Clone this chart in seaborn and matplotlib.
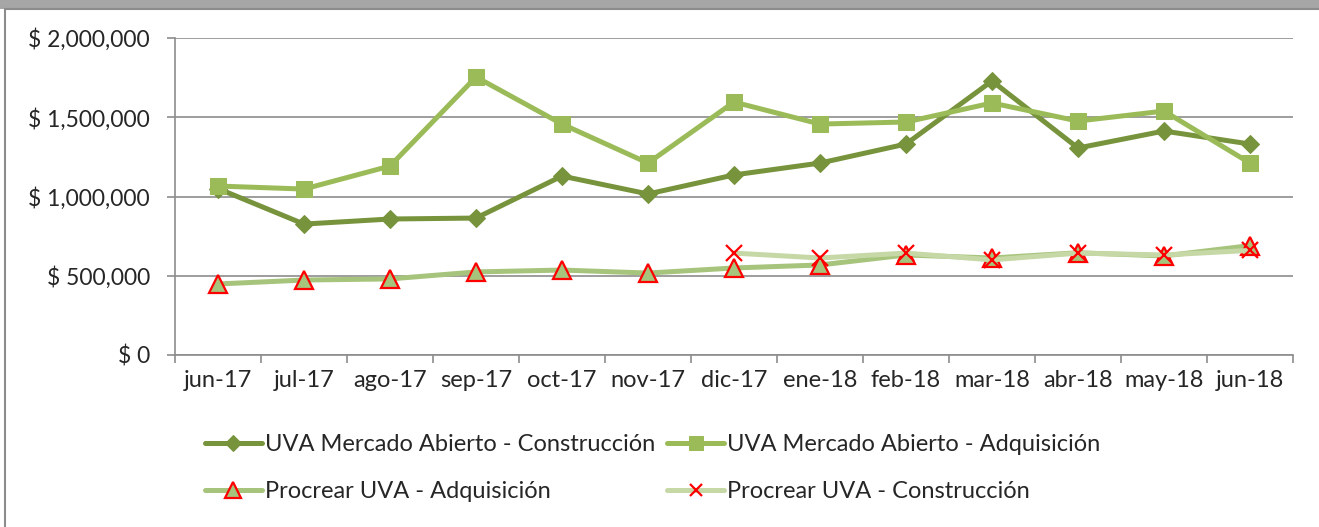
import matplotlib
matplotlib.use("Agg")
import matplotlib.pyplot as plt
import matplotlib.patches as mpatches
from matplotlib.ticker import FuncFormatter, FixedLocator
import seaborn as sns
import numpy as np
import pandas as pd

sns.set_style("white")
plt.rcParams['font.family'] = ['Lato', 'DejaVu Sans']

months = ['jun-17', 'jul-17', 'ago-17', 'sep-17', 'oct-17', 'nov-17', 'dic-17',
          'ene-18', 'feb-18', 'mar-18', 'abr-18', 'may-18', 'jun-18']

uva_construccion = [1050000, 826000, 858000, 864000, 1129000, 1016000, 1136000,
                    1211000, 1331000, 1729000, 1306000, 1413000, 1331000]
uva_adquisicion = [1066000, 1047000, 1192000, 1754000, 1457000, 1211000, 1596000,
                   1457000, 1470000, 1590000, 1476000, 1539000, 1211000]
procrear_adquisicion = [448000, 473000, 480000, 524000, 536000, 517000, 549000,
                        568000, 631000, 612000, 645000, 625000, 690000]
procrear_construccion = [np.nan, np.nan, np.nan, np.nan, np.nan, np.nan, 643000,
                         612000, 643000, 600000, 643000, 631000, 660000]

df = pd.DataFrame({
    'pos': np.arange(len(months)),
    'uva_c': uva_construccion,
    'uva_a': uva_adquisicion,
    'pro_a': procrear_adquisicion,
    'pro_c': procrear_construccion,
})

fig = plt.figure(figsize=(13.19, 5.27), dpi=100)
# outer frame like the excel chart area
fig.patches.append(mpatches.Rectangle((0, 1 - 9 / 527), 1, 9 / 527, transform=fig.transFigure,
                                      facecolor='#a6a6a6', edgecolor='none', zorder=-5))
fig.patches.append(mpatches.Rectangle((5 / 1319, -0.01), 1.0, 1 - 9 / 527 + 0.01,
                                      transform=fig.transFigure, facecolor='white',
                                      edgecolor='#8c8c8c', linewidth=1.5, zorder=-5))

ax = fig.add_axes([175 / 1319, 1 - 355 / 527, (1293 - 175) / 1319, (355 - 38) / 527])
ax.patch.set_alpha(0)

sns.lineplot(data=df, x='pos', y='uva_c', ax=ax, color='#77933c', linewidth=3.6,
             marker='D', markersize=9, markeredgecolor='#77933c',
             label='UVA Mercado Abierto - Construcción')
sns.lineplot(data=df, x='pos', y='uva_a', ax=ax, color='#9bbb59', linewidth=3.6,
             marker='s', markersize=12, markeredgecolor='#9bbb59',
             label='UVA Mercado Abierto - Adquisición')
sns.lineplot(data=df, x='pos', y='pro_a', ax=ax, color='#a7c47c', linewidth=3.6,
             marker='^', markersize=13, markerfacecolor='#a7c47c', markeredgecolor='red',
             markeredgewidth=1.6, label='Procrear UVA - Adquisición')
sns.lineplot(data=df, x='pos', y='pro_c', ax=ax, color='#c6d8a6', linewidth=3.6,
             marker='x', markersize=11, markeredgecolor='red', markeredgewidth=1.6,
             label='Procrear UVA - Construcción')

ax.set_xlim(-0.5, len(months) - 0.5)
ax.set_ylim(0, 2000000)
ax.set_yticks([0, 500000, 1000000, 1500000, 2000000])
ax.yaxis.set_major_formatter(FuncFormatter(lambda v, p: '$ {:,.0f}'.format(v)))
ax.set_xticks(np.arange(len(months)))
ax.set_xticklabels(months)
ax.xaxis.set_minor_locator(FixedLocator(np.arange(-0.5, len(months), 1)))
ax.tick_params(axis='x', which='major', length=0, pad=11, labelsize=17)
ax.tick_params(axis='x', which='minor', length=6, color='#8c8c8c', width=1.2, bottom=True)
ax.tick_params(axis='y', length=6, color='#8c8c8c', width=1.2, left=True, pad=12, labelsize=16.5)
ax.set_xlabel('')
ax.set_ylabel('')
ax.grid(axis='y', color='#8c8c8c', linewidth=1.2)
ax.set_axisbelow(True)
for s in ['top', 'right']:
    ax.spines[s].set_visible(False)
for s in ['left', 'bottom']:
    ax.spines[s].set_color('#8c8c8c')
    ax.spines[s].set_linewidth(1.2)

# row-wise legend order (matplotlib fills by column)
handles, labels = ax.get_legend_handles_labels()
order = [0, 2, 1, 3]
leg = ax.legend([handles[i] for i in order], [labels[i] for i in order],
                ncol=2, loc='upper left', bbox_to_anchor=(205 / 1319, 1 - 434 / 527),
                bbox_transform=fig.transFigure, frameon=False, borderpad=0, borderaxespad=0,
                fontsize=17, handlelength=2.4, handletextpad=0.15, columnspacing=0.5,
                labelspacing=1.12, markerscale=0.85)

fig.savefig('out.png', dpi=100)
